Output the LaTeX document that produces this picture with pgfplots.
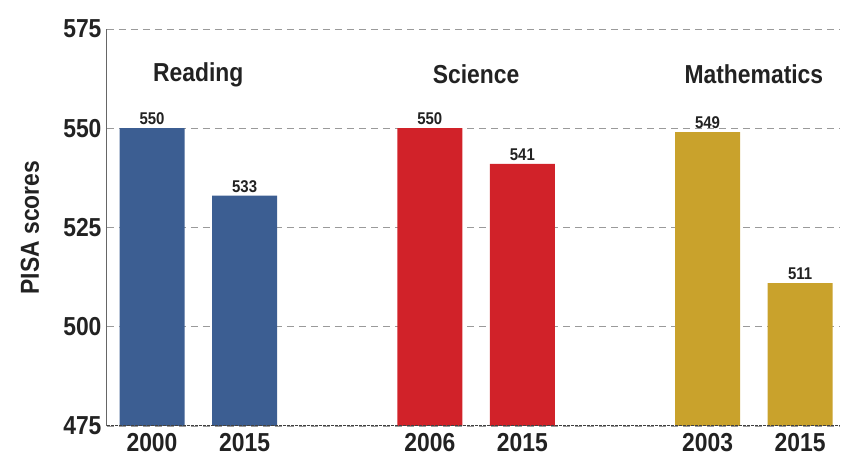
\documentclass[border=0pt]{standalone}
\usepackage{fontspec}
\setmainfont{Liberation Sans}[FakeStretch=0.88]
\usepackage{pgfplots}
\pgfplotsset{compat=1.18}
\definecolor{cblue}{HTML}{3C5E92}
\definecolor{cred}{HTML}{D12229}
\definecolor{cgold}{HTML}{C9A22C}
\definecolor{cgrid}{HTML}{9A9A9A}
\definecolor{ctext}{HTML}{222222}
\begin{document}
\begin{tikzpicture}
\begin{axis}[
  scale only axis,
  width=733pt, height=397pt,
  xmin=-0.486, xmax=7.43,
  ymin=475, ymax=575,
  ytick={475,500,525,550,575},
  xtick={0,1,3,4,6,7},
  xticklabels={2000,2015,2006,2015,2003,2015},
  major tick length=0pt,
  /pgf/number format/assume math mode=true,
  /pgf/number format/1000 sep={},
  ticklabel style={font=\fontsize{26}{29}\selectfont\bfseries, text=ctext},
  yticklabel style={xshift=-2pt},
  xticklabel style={yshift=-4pt},
  ymajorgrids,
  grid style={cgrid, line width=0.8pt, dash pattern=on 7pt off 5pt},
  axis line style={draw=none},
  ylabel={PISA scores},
  every axis y label/.style={at={(axis description cs:0,0.5)}, xshift=-77pt, anchor=center, rotate=90, font=\fontsize{26}{30}\selectfont\bfseries, text=ctext},
  nodes near coords,
  every node near coord/.append style={font=\fontsize{17}{20}\selectfont\bfseries, text=ctext},
  clip=false,
]
\addplot[ybar, bar width=65pt, bar shift=0pt, fill=cblue, draw=none] coordinates {(0,550) (1,533)};
\addplot[ybar, bar width=65pt, bar shift=0pt, fill=cred, draw=none] coordinates {(3,550) (4,541)};
\addplot[ybar, bar width=65pt, bar shift=0pt, fill=cgold, draw=none] coordinates {(6,549) (7,511)};
\draw[gray!80!black, line width=1pt] (axis cs:-0.486,475) -- (axis cs:-0.486,575);
\draw[darkgray, line width=1pt, dash pattern=on 3pt off 1pt] (axis cs:-0.486,475) -- (axis cs:7.43,475);
\node[font=\fontsize{26}{30}\selectfont\bfseries, text=ctext] at (axis cs:0.5,563.5) {Reading};
\node[font=\fontsize{26}{30}\selectfont\bfseries, text=ctext] at (axis cs:3.5,563.5) {Science};
\node[font=\fontsize{26}{30}\selectfont\bfseries, text=ctext] at (axis cs:6.5,563.5) {Mathematics};
\end{axis}
\pgfresetboundingbox
\path (-107pt,-36pt) rectangle (740pt,426pt);
\end{tikzpicture}
\end{document}
